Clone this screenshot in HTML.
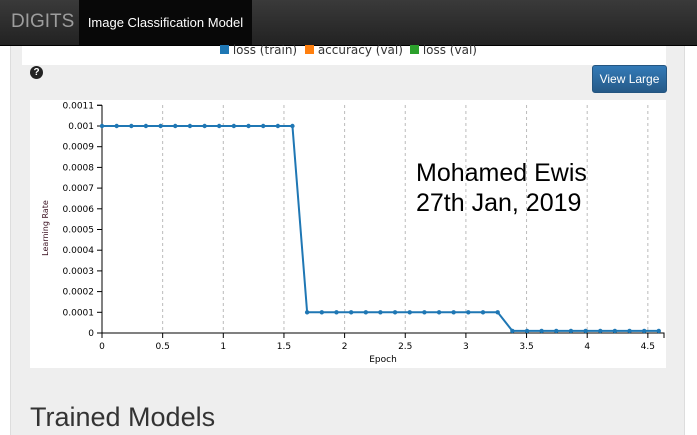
<!DOCTYPE html>
<html><head><meta charset="utf-8"><style>
body{margin:0;width:697px;height:435px;overflow:hidden;background:#fff;font-family:"Liberation Sans",sans-serif;position:relative}
.nav{position:absolute;left:0;top:0;width:697px;height:45px;background:linear-gradient(#3a3a3a,#222);border-bottom:1px solid #000}
.brand{position:absolute;left:11px;top:11px;font-size:19px;color:#9d9d9d}
.tab{position:absolute;left:79px;top:0;width:173px;height:45px;background:#080808;color:#fff;font-size:13px;line-height:45px;text-align:center}
.panel{position:absolute;left:10px;top:46px;width:673px;height:389px;background:#eee;border-left:1px solid #ddd;border-right:1px solid #ddd}
.legend{position:absolute;left:22px;top:46px;width:644px;height:19px;background:#fff;font-size:12px;color:#333;font-family:"DejaVu Sans",sans-serif}
.btn{position:absolute;left:592px;top:65px;width:73px;height:26px;background:linear-gradient(#337ab7,#265a88);border:1px solid #245580;border-radius:3px;color:#fff;font-size:12px;line-height:26px;text-align:center}
.help{position:absolute;left:30px;top:66px;width:13px;height:13px;border-radius:50%;background:#222;color:#fff;font-size:10px;font-weight:bold;text-align:center;line-height:13px}
h2{position:absolute;left:30px;top:402px;margin:0;font-weight:normal;font-size:27px;color:#333}
</style></head><body>
<div class="nav">
<div class="brand">DIGITS</div>
<div class="tab">Image Classification Model</div>
</div>
<div class="panel"></div>
<div class="legend">
<span style="position:absolute;left:198px;top:-3px"><span style="display:inline-block;width:9px;height:9px;background:#1f77b4"></span> loss (train)</span>
<span style="position:absolute;left:283px;top:-3px"><span style="display:inline-block;width:9px;height:9px;background:#ff7f0e"></span> accuracy (val)</span>
<span style="position:absolute;left:388px;top:-3px"><span style="display:inline-block;width:9px;height:9px;background:#2ca02c"></span> loss (val)</span>
</div>
<div class="help">?</div>
<div class="btn">View Large</div>
<svg id="chart" style="position:absolute;left:30px;top:100px;background:#fff" width="636" height="268"></svg>
<h2>Trained Models</h2>
<script>
const epochs=[0,0.121,0.242,0.362,0.483,0.604,0.725,0.846,0.966,1.087,1.208,1.329,1.45,1.57,1.691,1.812,1.933,2.054,2.175,2.295,2.416,2.537,2.658,2.779,2.899,3.02,3.141,3.262,3.383,3.504,3.624,3.745,3.866,3.987,4.108,4.228,4.349,4.47,4.59];
const lr=[0.001,0.001,0.001,0.001,0.001,0.001,0.001,0.001,0.001,0.001,0.001,0.001,0.001,0.001,0.0001,0.0001,0.0001,0.0001,0.0001,0.0001,0.0001,0.0001,0.0001,0.0001,0.0001,0.0001,0.0001,0.0001,0.00001,0.00001,0.00001,0.00001,0.00001,0.00001,0.00001,0.00001,0.00001,0.00001,0.00001];
const xTicks=[0,0.5,1,1.5,2,2.5,3,3.5,4,4.5];
const yTicks=[0,0.0001,0.0002,0.0003,0.0004,0.0005,0.0006,0.0007,0.0008,0.0009,0.001,0.0011];
const yLabels=["0","0.0001","0.0002","0.0003","0.0004","0.0005","0.0006","0.0007","0.0008","0.0009","0.001","0.0011"];
const svg=document.getElementById('chart');const NS='http://www.w3.org/2000/svg';
const x=v=>72+v*121.3, y=v=>233-v*207000;
function mk(t,a,txt){const e=document.createElementNS(NS,t);for(const k in a)e.setAttribute(k,a[k]);if(txt!=null)e.textContent=txt;svg.appendChild(e);return e;}
xTicks.forEach(t=>{
 const g=mk('line',{x1:x(t),x2:x(t),y1:5,y2:233,stroke:'#bbb','stroke-dasharray':'3,3'});
 
 mk('line',{x1:x(t),x2:x(t),y1:233,y2:238,stroke:'#000'});
 const l=mk('text',{x:x(t),y:249,'font-size':9,'text-anchor':'middle','font-family':'DejaVu Sans'},t);
 
});
yTicks.forEach((t,i)=>{
 mk('line',{x1:67,x2:72,y1:y(t),y2:y(t),stroke:'#000'});
 const l=mk('text',{x:64,y:y(t)+3,'font-size':9,'text-anchor':'end','font-family':'DejaVu Sans'},yLabels[i]);
 
});
mk('path',{d:'M72,'+y(0.0011)+'H67M72,'+y(0.0011)+'V233H634V238',fill:'none',stroke:'#000'});
const xt=mk('text',{x:353,y:262,'font-size':9,'text-anchor':'middle','font-family':'DejaVu Sans'},'Epoch');

const yt=mk('text',{x:0,y:0,'font-size':8,'text-anchor':'middle','font-family':'DejaVu Sans',fill:'#3a1020',transform:'translate(18,128) rotate(-90)'},'Learning Rate');

const ln=mk('path',{d:epochs.map((e,i)=>(i?'L':'M')+x(e)+','+y(lr[i])).join(''),fill:'none',stroke:'#1f77b4','stroke-width':2});

epochs.forEach((e,i)=>{const c=mk('circle',{cx:x(e),cy:y(lr[i]),r:2.2,fill:'#1f77b4'});
});
const a1=mk('text',{x:386,y:81,'font-size':25,'font-family':'Liberation Sans'},'Mohamed Ewis');

const a2=mk('text',{x:386,y:111,'font-size':25,'font-family':'Liberation Sans'},'27th Jan, 2019');

</script>
</body></html>
